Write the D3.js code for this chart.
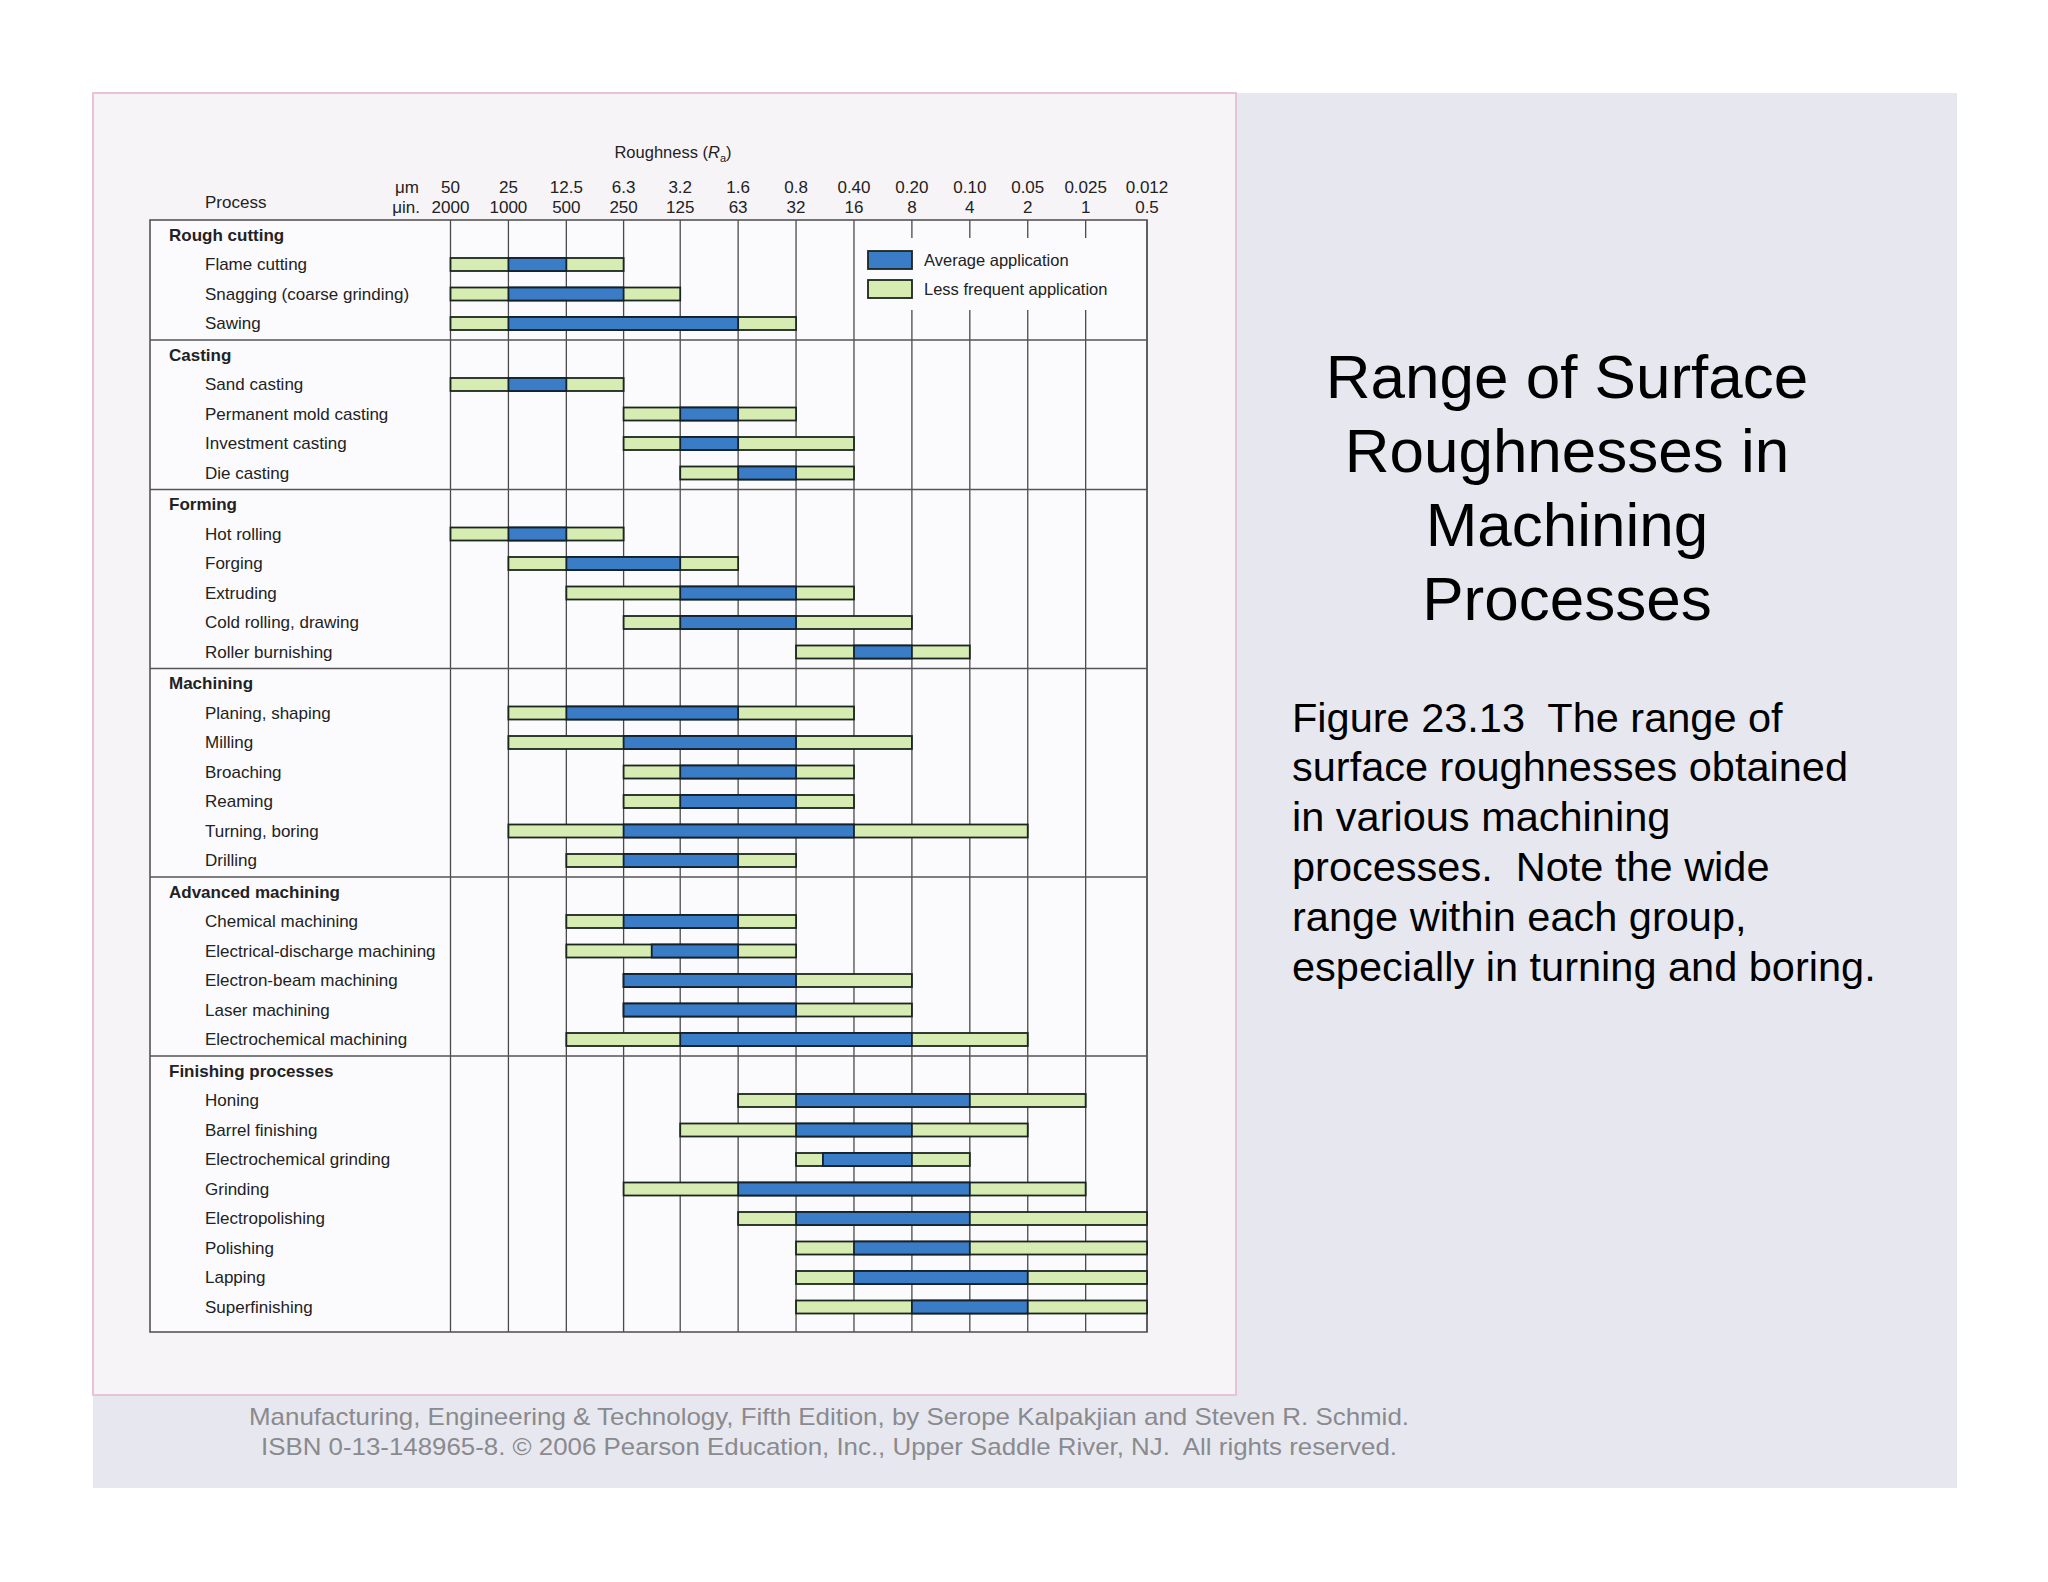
<!DOCTYPE html>
<html>
<head>
<meta charset="utf-8">
<script src="https://cdn.jsdelivr.net/npm/d3@7"></script>
<style>
  body { margin: 0; background: #fff; }
  text { font-family: "Liberation Sans", Arial, Helvetica, sans-serif; white-space: pre; }
</style>
</head>
<body>
<div id="chart"></div>
<script>
// tick labels of the roughness axis
var umLabels  = ["50", "25", "12.5", "6.3", "3.2", "1.6", "0.8", "0.40", "0.20", "0.10", "0.05", "0.025", "0.012"];
var uinLabels = ["2000", "1000", "500", "250", "125", "63", "32", "16", "8", "4", "2", "1", "0.5"];

var groupNames = ["Rough cutting", "Casting", "Forming", "Machining", "Advanced machining", "Finishing processes"];

var processNames = [
  "Flame cutting", "Snagging (coarse grinding)", "Sawing",
  "Sand casting", "Permanent mold casting", "Investment casting", "Die casting",
  "Hot rolling", "Forging", "Extruding", "Cold rolling, drawing", "Roller burnishing",
  "Planing, shaping", "Milling", "Broaching", "Reaming", "Turning, boring", "Drilling",
  "Chemical machining", "Electrical-discharge machining", "Electron-beam machining", "Laser machining", "Electrochemical machining",
  "Honing", "Barrel finishing", "Electrochemical grinding", "Grinding", "Electropolishing", "Polishing", "Lapping", "Superfinishing"
];
var processGroup = [0,0,0, 1,1,1,1, 2,2,2,2,2, 3,3,3,3,3,3, 4,4,4,4,4, 5,5,5,5,5,5,5,5];

// roughness in micrometres: less frequent from -> average from -> average to -> less frequent to
var lessFrom = [50, 50, 50,  50, 6.3, 6.3, 3.2,  50, 25, 12.5, 6.3, 0.8,  25, 25, 6.3, 6.3, 25, 12.5,  12.5, 12.5, 6.3, 6.3, 12.5,  1.6, 3.2, 0.8, 6.3, 1.6, 0.8, 0.8, 0.8];
var avgFrom  = [25, 25, 25,  25, 3.2, 3.2, 1.6,  25, 12.5, 3.2, 3.2, 0.4,  12.5, 6.3, 3.2, 3.2, 6.3, 6.3,  6.3, 4.5, 6.3, 6.3, 3.2,  0.8, 0.8, 0.58, 1.6, 0.8, 0.4, 0.4, 0.2];
var avgTo    = [12.5, 6.3, 1.6,  12.5, 1.6, 1.6, 0.8,  12.5, 3.2, 0.8, 0.8, 0.2,  1.6, 0.8, 0.8, 0.8, 0.4, 1.6,  1.6, 1.6, 0.8, 0.8, 0.2,  0.1, 0.2, 0.2, 0.1, 0.1, 0.1, 0.05, 0.05];
var lessTo   = [6.3, 3.2, 0.8,  6.3, 0.8, 0.4, 0.4,  6.3, 1.6, 0.4, 0.2, 0.1,  0.4, 0.2, 0.4, 0.4, 0.05, 0.8,  0.8, 0.8, 0.2, 0.2, 0.05,  0.025, 0.05, 0.1, 0.025, 0.012, 0.012, 0.012, 0.012];

var titleLines = ["Range of Surface", "Roughnesses in", "Machining", "Processes"];
var captionLines = [
  "Figure 23.13  The range of",
  "surface roughnesses obtained",
  "in various machining",
  "processes.  Note the wide",
  "range within each group,",
  "especially in turning and boring."
];
var footerLines = [
  "Manufacturing, Engineering & Technology, Fifth Edition, by Serope Kalpakjian and Steven R. Schmid.",
  "ISBN 0-13-148965-8. \u00A9 2006 Pearson Education, Inc., Upper Saddle River, NJ.  All rights reserved."
];

var W = 2048, H = 1582;
var table = {left: 150, right: 1147, top: 220, bottom: 1332};
var rowStep = 29.5, groupPad = 2, firstRow = 235;
var blue = "#3a7cc6", green = "#d7ecb2", ink = "#222";

var svg = d3.select("#chart").append("svg")
  .attr("width", W).attr("height", H);

// slide background
svg.append("rect").attr("x", 93).attr("y", 93).attr("width", 1864).attr("height", 1395)
  .attr("fill", "#e7e8ef");

// figure panel
svg.append("rect").attr("x", 93).attr("y", 93).attr("width", 1143).attr("height", 1302)
  .attr("fill", "#f7f4f7").attr("stroke", "#e6c3d6").attr("stroke-width", 2);

// x scale (log, rough on the left)
var x = d3.scaleLog()
  .domain([50, 0.012])
  .range([450.5, table.right]);
var tickVals = umLabels.map(function(d) { return +d; });

// build the rows (group headers + processes)
var rows = [];
groupNames.forEach(function(g, gi) {
  rows.push({type: "group", name: g, group: gi});
  processNames.forEach(function(p, pi) {
    if (processGroup[pi] == gi) rows.push({type: "proc", name: p, group: gi, i: pi});
  });
});
var y = d3.scaleLinear().domain([0, 1]).range([firstRow, firstRow + rowStep]);
rows.forEach(function(r, k) { r.y = y(k) + r.group * groupPad; });

// table body
svg.append("rect")
  .attr("x", table.left).attr("y", table.top)
  .attr("width", table.right - table.left).attr("height", table.bottom - table.top)
  .attr("fill", "#fbfbfd");

// vertical grid lines
svg.append("g").selectAll("line")
  .data(tickVals)
  .enter().append("line")
    .attr("x1", function(d) { return x(d); })
    .attr("x2", function(d) { return x(d); })
    .attr("y1", table.top).attr("y2", table.bottom)
    .attr("stroke", "#4a4a4a").attr("stroke-width", 1.3);

// group dividers
svg.append("g").selectAll("line")
  .data(rows.filter(function(r) { return r.type == "group" && r.group > 0; }))
  .enter().append("line")
    .attr("x1", table.left).attr("x2", table.right)
    .attr("y1", function(d) { return d.y - 15; })
    .attr("y2", function(d) { return d.y - 15; })
    .attr("stroke", "#555").attr("stroke-width", 1.5);

svg.append("rect")
  .attr("x", table.left).attr("y", table.top)
  .attr("width", table.right - table.left).attr("height", table.bottom - table.top)
  .attr("fill", "none").attr("stroke", "#555").attr("stroke-width", 1.6);

// axis header
svg.append("text").attr("x", 673).attr("y", 152).attr("dy", "0.35em")
  .attr("text-anchor", "middle").attr("font-size", 16.5).attr("fill", ink)
  .html('Roughness (<tspan font-style="italic">R</tspan><tspan font-size="11" dy="4">a</tspan><tspan dy="-4">)</tspan>');

svg.append("text").attr("x", 205).attr("y", 202).attr("dy", "0.35em")
  .attr("font-size", 17).attr("fill", ink).text("Process");
svg.append("text").attr("x", 419).attr("y", 187).attr("dy", "0.35em")
  .attr("text-anchor", "end").attr("font-size", 17).attr("fill", ink).text("\u03BCm");
svg.append("text").attr("x", 420).attr("y", 207).attr("dy", "0.35em")
  .attr("text-anchor", "end").attr("font-size", 17).attr("fill", ink).text("\u03BCin.");

svg.append("g").selectAll("text")
  .data(umLabels)
  .enter().append("text")
    .attr("x", function(d, i) { return x(tickVals[i]); })
    .attr("y", 187).attr("dy", "0.35em")
    .attr("text-anchor", "middle").attr("font-size", 17).attr("fill", ink)
    .text(function(d) { return d; });

svg.append("g").selectAll("text")
  .data(uinLabels)
  .enter().append("text")
    .attr("x", function(d, i) { return x(tickVals[i]); })
    .attr("y", 207).attr("dy", "0.35em")
    .attr("text-anchor", "middle").attr("font-size", 17).attr("fill", ink)
    .text(function(d) { return d; });

// row labels
svg.append("g").selectAll("text")
  .data(rows)
  .enter().append("text")
    .attr("x", function(d) { return d.type == "group" ? 169 : 205; })
    .attr("y", function(d) { return d.y; })
    .attr("dy", "0.35em")
    .attr("font-size", 17)
    .attr("font-weight", function(d) { return d.type == "group" ? "bold" : "normal"; })
    .attr("fill", ink)
    .text(function(d) { return d.name; });

// bars
var procRows = rows.filter(function(r) { return r.type == "proc"; });
var barH = 13;

svg.append("g").selectAll("rect")
  .data(procRows)
  .enter().append("rect")
    .attr("x", function(d) { return x(lessFrom[d.i]); })
    .attr("width", function(d) { return x(lessTo[d.i]) - x(lessFrom[d.i]); })
    .attr("y", function(d) { return d.y - barH / 2; })
    .attr("height", barH)
    .attr("fill", green).attr("stroke", "#1c2620").attr("stroke-width", 1.8);

svg.append("g").selectAll("rect")
  .data(procRows)
  .enter().append("rect")
    .attr("x", function(d) { return x(avgFrom[d.i]); })
    .attr("width", function(d) { return x(avgTo[d.i]) - x(avgFrom[d.i]); })
    .attr("y", function(d) { return d.y - barH / 2; })
    .attr("height", barH)
    .attr("fill", blue).attr("stroke", "#14202a").attr("stroke-width", 1.8);

// legend
svg.append("rect").attr("x", 862).attr("y", 238).attr("width", 278).attr("height", 72)
  .attr("fill", "#fbfbfd");
var legend = [{label: "Average application", color: blue, y: 260}, {label: "Less frequent application", color: green, y: 289}];
var lg = svg.append("g").selectAll("g").data(legend).enter().append("g");
lg.append("rect")
  .attr("x", 868).attr("y", function(d) { return d.y - 9; })
  .attr("width", 44).attr("height", 18)
  .attr("fill", function(d) { return d.color; })
  .attr("stroke", "#1c2620").attr("stroke-width", 1.8);
lg.append("text")
  .attr("x", 924).attr("y", function(d) { return d.y; }).attr("dy", "0.35em")
  .attr("font-size", 16.5).attr("fill", ink)
  .text(function(d) { return d.label; });

// slide title and caption
svg.append("g").selectAll("text")
  .data(titleLines)
  .enter().append("text")
    .attr("x", 1567).attr("y", function(d, i) { return 376 + i * 74; })
    .attr("dy", "0.35em").attr("text-anchor", "middle")
    .attr("font-size", 62).attr("fill", "#000")
    .text(function(d) { return d; });

svg.append("g").selectAll("text")
  .data(captionLines)
  .enter().append("text")
    .attr("x", 1292).attr("y", function(d, i) { return 717 + i * 49.9; })
    .attr("dy", "0.35em")
    .attr("font-size", 41.5).attr("fill", "#000")
    .text(function(d) { return d; });

// footer
var footerWidth = [1160, 1136];
svg.append("g").selectAll("text")
  .data(footerLines)
  .enter().append("text")
    .attr("x", 829).attr("y", function(d, i) { return 1417 + i * 30; })
    .attr("dy", "0.35em").attr("text-anchor", "middle")
    .attr("font-size", 24).attr("fill", "#8a8a8e")
    .attr("textLength", function(d, i) { return footerWidth[i]; })
    .attr("lengthAdjust", "spacingAndGlyphs")
    .style("font-family", "'Liberation Sans Narrow', 'Liberation Sans', Arial, sans-serif")
    .text(function(d) { return d; });
</script>
</body>
</html>
